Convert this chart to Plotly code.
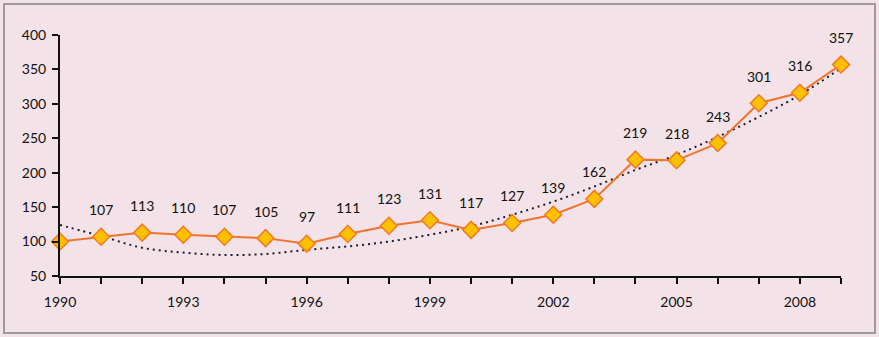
import plotly.graph_objects as go

years = list(range(1990, 2010))
values = [100, 107, 113, 110, 107, 105, 97, 111, 123, 131, 117, 127, 139, 162, 219, 218, 243, 301, 316, 357]
labels = ["", "107", "113", "110", "107", "105", "97", "111", "123", "131", "117", "127", "139", "162", "219", "218", "243", "301", "316", "357"]
# dotted trendline at each year
trend = [124, 108, 91, 84, 80.5, 82, 88, 93, 100, 110, 122, 139, 158, 180, 204, 226, 252, 281, 313, 352]
x_ticks = [1990, 1993, 1996, 1999, 2002, 2005, 2008]
y_ticks = [50, 100, 150, 200, 250, 300, 350, 400]

W, H = 879, 337
L, R, T, B = 60, 38, 35, 61
pw, ph = W - L - R, H - T - B

fig = go.Figure()
fig.add_trace(go.Scatter(x=years, y=trend, mode="lines",
                         line=dict(color="#1c1c30", width=2, dash="2px,4px", shape="spline", smoothing=1.0),
                         hoverinfo="skip", cliponaxis=False))
fig.add_trace(go.Scatter(x=years, y=values, mode="lines+markers",
                         line=dict(color="#F0742E", width=2),
                         marker=dict(symbol="diamond", size=13, color="#FFC000",
                                     line=dict(color="#F27A22", width=1.5)),
                         cliponaxis=False))

for yv, v, lab in zip(years, values, labels):
    if lab:
        fig.add_annotation(x=yv, y=v, text=lab, showarrow=False, yshift=27,
                           font=dict(size=14, color="#111111"))

bx0, by0, bx1, by1 = 4, 4, 875, 333
fig.add_shape(type="rect", xref="paper", yref="paper",
              x0=(bx0 - L) / pw, x1=(bx1 - L) / pw,
              y0=(H - B - by1) / ph, y1=(H - B - by0) / ph,
              line=dict(color="#9C9C9C", width=2), layer="below")

fig.update_layout(
    width=W, height=H,
    margin=dict(l=L, r=R, t=T, b=B),
    paper_bgcolor="#F3E2E7", plot_bgcolor="#F3E2E7",
    showlegend=False,
    font=dict(family="Lato, Carlito, sans-serif", size=14, color="#111111"),
)
fig.update_xaxes(range=[1990, 2009], tickvals=years,
                 ticktext=[str(y) if y in x_ticks else "" for y in years],
                 ticks="outside", ticklen=6, tickwidth=2, tickcolor="#111111",
                 showline=True, linecolor="#111111", linewidth=2,
                 showgrid=False, zeroline=False, ticklabelstandoff=6,
                 tickfont=dict(size=14), automargin=False)
fig.update_yaxes(range=[50, 400], tickvals=y_ticks,
                 ticks="outside", ticklen=6, tickwidth=2, tickcolor="#111111",
                 showline=True, linecolor="#111111", linewidth=2,
                 showgrid=False, zeroline=False, ticklabelstandoff=3,
                 tickfont=dict(size=14), automargin=False)

fig.write_html("out.html", config={"displayModeBar": False},
               post_script="document.body.style.margin='0';document.body.style.overflow='hidden';")
